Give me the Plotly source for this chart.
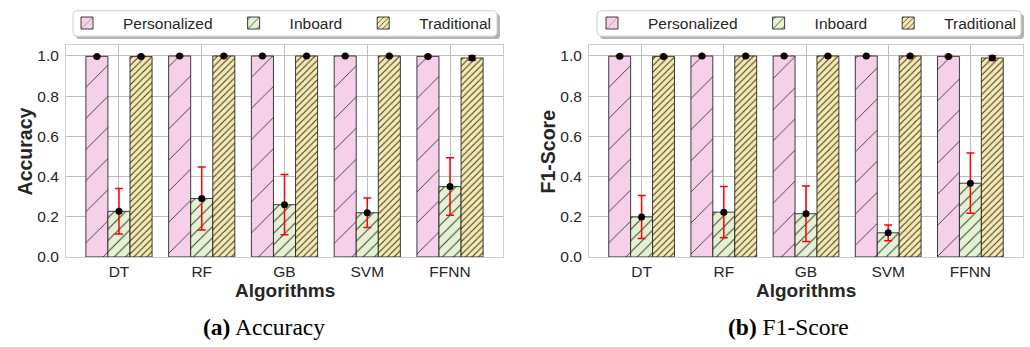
import plotly.graph_objects as go

# ---------------- data ----------------
algorithms = ["DT", "RF", "GB", "SVM", "FFNN"]
series_names = ["Personalized", "Inboard", "Traditional"]

acc_personalized = [0.998, 1.000, 1.000, 1.000, 0.998]
acc_personalized_err = [0.003, 0.002, 0.001, 0.001, 0.004]
acc_inboard = [0.227, 0.291, 0.260, 0.220, 0.350]
acc_inboard_err = [0.113, 0.157, 0.150, 0.073, 0.143]
acc_traditional = [0.997, 1.000, 1.000, 1.000, 0.990]
acc_traditional_err = [0.004, 0.002, 0.002, 0.002, 0.011]

f1_personalized = [0.999, 1.000, 1.000, 1.000, 0.998]
f1_personalized_err = [0.003, 0.002, 0.001, 0.001, 0.004]
f1_inboard = [0.199, 0.223, 0.215, 0.120, 0.367]
f1_inboard_err = [0.107, 0.128, 0.138, 0.039, 0.150]
f1_traditional = [0.998, 1.000, 1.000, 1.000, 0.990]
f1_traditional_err = [0.004, 0.002, 0.002, 0.002, 0.011]

y_ticks = [0.0, 0.2, 0.4, 0.6, 0.8, 1.0]

# ---------------- styles ----------------
W, H = 1030, 347
colors = ["#f5d0e8", "#e4f2d2", "#f8eaae"]
pat_size = [22, 8, 4.6]
pat_sol = [0.04, 0.12, 0.22]
bar_w = 0.8 / 3
offsets = [-bar_w, 0.0, bar_w]
sans = "Liberation Sans, Arial, sans-serif"
serif = "Liberation Serif, DejaVu Serif, serif"
txt = "#262626"

panels = [
    dict(vals=[acc_personalized, acc_inboard, acc_traditional],
         errs=[acc_personalized_err, acc_inboard_err, acc_traditional_err],
         ylabel="<b>Accuracy</b>", caption="<b>(a)</b> Accuracy",
         xdom=(66, 503), legend="legend", box=(73, 497), leg_x=51, ylab_x=25,
         cap_x=264),
    dict(vals=[f1_personalized, f1_inboard, f1_traditional],
         errs=[f1_personalized_err, f1_inboard_err, f1_traditional_err],
         ylabel="<b>F1-Score</b>", caption="<b>(b)</b> F1-Score",
         xdom=(589, 1023), legend="legend2", box=(597, 1021), leg_x=576, ylab_x=548,
         cap_x=788),
]

fig = go.Figure()
ydom = (1 - 263 / H, 1 - 46 / H)
shapes = []
annotations = []

for p_i, p in enumerate(panels):
    ax = "" if p_i == 0 else str(p_i + 1)
    xref, yref = "x" + ax, "y" + ax
    for s_i, name in enumerate(series_names):
        xs = [i + offsets[s_i] for i in range(len(algorithms))]
        fig.add_trace(go.Bar(
            x=xs, y=p["vals"][s_i], width=bar_w, name=name,
            xaxis=xref, yaxis=yref, legend=p["legend"],
            marker=dict(color=colors[s_i],
                        line=dict(color="rgba(30,30,30,0.85)", width=1),
                        pattern=dict(shape="/", size=pat_size[s_i],
                                     solidity=pat_sol[s_i],
                                     fgcolor="#222222", fgopacity=0.9)),
            showlegend=True,
        ))
    for s_i, name in enumerate(series_names):
        xs = [i + offsets[s_i] for i in range(len(algorithms))]
        fig.add_trace(go.Scatter(
            x=xs, y=p["vals"][s_i], mode="markers", xaxis=xref, yaxis=yref,
            marker=dict(color="black", size=7),
            error_y=dict(type="data", array=p["errs"][s_i], color="red",
                         thickness=1.5, width=4),
            showlegend=False, hoverinfo="skip",
        ))
    xd = (p["xdom"][0] / W, p["xdom"][1] / W)
    axis_common = dict(showline=True, mirror=True, linecolor="#cccccc", linewidth=1,
                       showgrid=True, gridcolor="#bdbdbd", gridwidth=1, zeroline=False,
                       ticks="", tickfont=dict(family=sans, size=15.5, color=txt))
    fig.update_layout(**{
        "xaxis" + ax: dict(domain=xd, range=[-0.64, 4.64], tickmode="array",
                           tickvals=list(range(len(algorithms))), ticktext=algorithms,
                           anchor=yref, **axis_common),
        "yaxis" + ax: dict(domain=ydom, range=[0, 1.055], tickmode="array",
                           tickvals=y_ticks, ticktext=[f"{v:.1f}" for v in y_ticks],
                           anchor=xref, ticklabelstandoff=3, **axis_common),
    })
    # axis titles
    annotations.append(dict(text="<b>Algorithms</b>", xref="paper", yref="paper",
                            x=(p["xdom"][0] + p["xdom"][1]) / 2 / W, y=1 - 297 / H,
                            xanchor="center", yanchor="middle", showarrow=False,
                            font=dict(family=sans, size=19, color=txt)))
    annotations.append(dict(text=p["ylabel"], xref="paper", yref="paper",
                            x=p["ylab_x"] / W, y=1 - 155 / H, textangle=-90,
                            xanchor="center", yanchor="middle", showarrow=False,
                            font=dict(family=sans, size=19.5, color=txt)))
    # legend box (rounded, with shadow)
    x0, x1 = p["box"]
    y0, y1 = 11, 37
    r = 4

    def rpath(a0, b0, a1, b1):
        pa = lambda v: v / W
        pb = lambda v: 1 - v / H
        return (f"M{pa(a0 + r)},{pb(b0)} L{pa(a1 - r)},{pb(b0)} "
                f"Q{pa(a1)},{pb(b0)} {pa(a1)},{pb(b0 + r)} L{pa(a1)},{pb(b1 - r)} "
                f"Q{pa(a1)},{pb(b1)} {pa(a1 - r)},{pb(b1)} L{pa(a0 + r)},{pb(b1)} "
                f"Q{pa(a0)},{pb(b1)} {pa(a0)},{pb(b1 - r)} L{pa(a0)},{pb(b0 + r)} "
                f"Q{pa(a0)},{pb(b0)} {pa(a0 + r)},{pb(b0)} Z")

    shapes.append(dict(type="path", xref="paper", yref="paper",
                       path=rpath(x0 + 3, y0 + 3, x1 + 3, y1 + 3),
                       fillcolor="#b3b3b3", line=dict(width=0)))
    shapes.append(dict(type="path", xref="paper", yref="paper",
                       path=rpath(x0, y0, x1, y1),
                       fillcolor="white", line=dict(color="#d0d0d0", width=1)))
    fig.update_layout(**{p["legend"]: dict(
        orientation="h", x=p["leg_x"] / W, xanchor="left",
        y=1 - (y0 + y1) / 2 / H, yanchor="middle",
        bgcolor="rgba(0,0,0,0)", borderwidth=0,
        font=dict(family=sans, size=15.5, color=txt),
        itemwidth=62, tracegroupgap=0,
    )})
    annotations.append(dict(text=p["caption"], xref="paper", yref="paper",
                            x=p["cap_x"] / W,
                            y=1 - 335 / H, xanchor="center", yanchor="middle",
                            showarrow=False,
                            font=dict(family=serif, size=23.5, color="black")))

fig.update_layout(width=W, height=H, margin=dict(l=0, r=0, t=0, b=0),
                  paper_bgcolor="white", plot_bgcolor="white",
                  shapes=shapes, annotations=annotations, showlegend=True)

fig.write_html("out.html")
